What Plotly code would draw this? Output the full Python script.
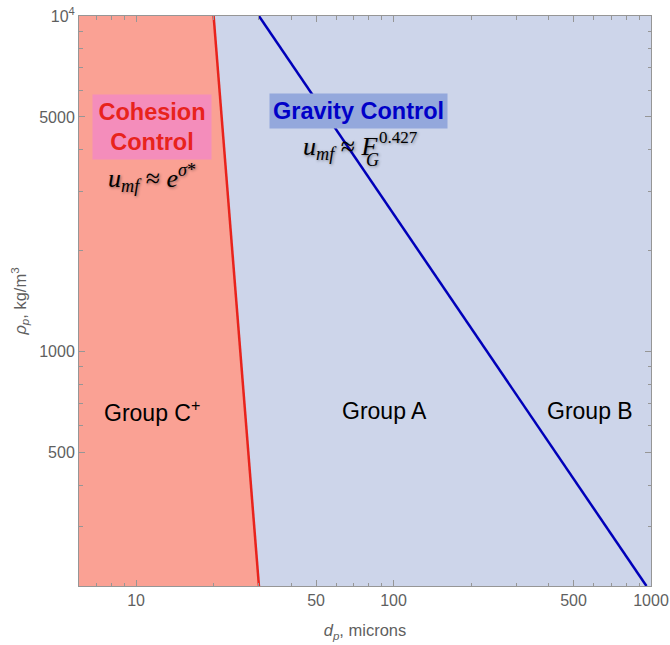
import math
import plotly.graph_objects as go

# Axis extents (particle diameter in microns, particle density in kg/m^3)
d_range = [6, 1000]
rho_range = [200, 10000]

# Regime boundaries
cohesion_boundary_d = [20, 30]
cohesion_boundary_rho = [10000, 200]
gravity_boundary_d = [30, 960]
gravity_boundary_rho = [10000, 200]

# Tick marks
x_tickvals = [10, 50, 100, 500, 1000]
x_ticktext = ["10", "50", "100", "500", "1000"]
y_tickvals = [500, 1000, 5000, 10000]
y_ticktext = ["500", "1000", "5000", "10<sup>4</sup>"]
x_minor = [6, 7, 8, 9, 20, 30, 40, 60, 70, 80, 90, 200, 300, 400, 600, 700, 800, 900]
y_minor = [200, 300, 400, 600, 700, 800, 900, 2000, 3000, 4000, 6000, 7000, 8000, 9000]

RED_FILL = "rgb(250,161,148)"
BLUE_FILL = "rgb(205,213,234)"
RED_LINE = "rgb(232,35,28)"
BLUE_LINE = "rgb(0,0,185)"
SANS = "Liberation Sans, Arial, Helvetica, sans-serif"
SERIF = "Liberation Serif, Times New Roman, serif"

W, H = 670, 645
ML, MR, MT, MB = 79, 19, 16, 59
PW, PH = W - ML - MR, H - MT - MB


def px(x, y):
    """Pixel position on the page -> paper coordinates."""
    return (x - ML) / PW, (H - MB - y) / PH


fig = go.Figure()

# Cohesion-controlled region (Group C+), left of the red boundary
fig.add_trace(go.Scatter(
    x=[d_range[0], d_range[0]] + cohesion_boundary_d,
    y=[rho_range[0], rho_range[1]] + cohesion_boundary_rho,
    fill="toself", fillcolor=RED_FILL, mode="none",
    hoverinfo="skip", showlegend=False,
))
fig.add_trace(go.Scatter(
    x=cohesion_boundary_d, y=cohesion_boundary_rho, mode="lines",
    line=dict(color=RED_LINE, width=2.5), showlegend=False,
))
fig.add_trace(go.Scatter(
    x=gravity_boundary_d, y=gravity_boundary_rho, mode="lines",
    line=dict(color=BLUE_LINE, width=2.5), showlegend=False,
))

annotations = []


def label(x, y, text, size, color="black", family=SANS, xanchor="center",
          shadow=None, **kw):
    ax, ay = px(x, y)
    font = dict(family=family, size=size, color=color)
    if shadow:
        font["shadow"] = shadow
    annotations.append(dict(
        xref="paper", yref="paper", x=ax, y=ay, text=text, showarrow=False,
        xanchor=xanchor, yanchor="middle", font=font, **kw))


# Regime titles
label(152, 127, "<b>Cohesion<br>Control</b>", 23.5, RED_LINE,
      bgcolor="rgb(244,141,187)", width=118, height=64, borderpad=0)
label(358.5, 111, "<b>Gravity Control</b>", 23.5, "rgb(0,0,200)",
      bgcolor="rgb(148,168,220)", width=177, height=34, borderpad=0)

shadow = "1px 1px 3px rgba(0,0,0,0.45)"
# Scaling laws
label(152, 178, "<i>u</i><sub><i>mf</i></sub> ≈ <i>e</i><sup><i>σ</i>*</sup>",
      26, family=SERIF, shadow=shadow)
label(301, 148, "<i>u</i><sub><i>mf</i></sub> ≈ <i>F</i>", 26,
      family=SERIF, xanchor="left", shadow=shadow)
label(377, 137, "0.427", 17, family=SERIF, xanchor="left", shadow=shadow)
label(364, 160, "<i>G</i>", 18, family=SERIF, xanchor="left", shadow=shadow)

# Geldart groups
label(151.5, 411, "Group C<sup>+</sup>", 23)
label(384.5, 411, "Group A", 23)
label(590, 411, "Group B", 23)

FRAME = "rgb(150,150,150)"
TICKFONT = dict(family=SANS, size=16, color="rgb(95,95,95)")
TITLEFONT = dict(family=SANS, size=16.5, color="rgb(95,95,95)")

fig.update_layout(
    template="none",
    width=W, height=H,
    margin=dict(l=ML, r=MR, t=MT, b=MB, autoexpand=False),
    paper_bgcolor="white", plot_bgcolor=BLUE_FILL,
    annotations=annotations,
    xaxis=dict(
        type="log", range=[math.log10(d_range[0]), math.log10(d_range[1])],
        automargin=False,
        tickmode="array", tickvals=x_tickvals, ticktext=x_ticktext,
        ticks="inside", ticklen=6, tickcolor=FRAME, tickwidth=1,
        minor=dict(tickmode="array", tickvals=x_minor, ticks="inside",
                   ticklen=3.5, tickcolor=FRAME, showgrid=False),
        showline=True, linecolor=FRAME, linewidth=1, mirror="allticks",
        showgrid=False, zeroline=False, tickfont=TICKFONT,
        title=dict(text="<i>d</i><sub><i>p</i></sub>, microns",
                   font=TITLEFONT, standoff=16),
    ),
    yaxis=dict(
        type="log", range=[math.log10(rho_range[0]), math.log10(rho_range[1])],
        automargin=False,
        tickmode="array", tickvals=y_tickvals, ticktext=y_ticktext,
        ticks="inside", ticklen=6, tickcolor=FRAME, tickwidth=1,
        minor=dict(tickmode="array", tickvals=y_minor, ticks="inside",
                   ticklen=3.5, tickcolor=FRAME, showgrid=False),
        showline=True, linecolor=FRAME, linewidth=1, mirror="allticks",
        showgrid=False, zeroline=False, tickfont=TICKFONT,
        title=dict(text="<i>ρ</i><sub><i>p</i></sub>, kg/m<sup>3</sup>",
                   font=TITLEFONT, standoff=8),
    ),
)

fig.write_html("out.html")
